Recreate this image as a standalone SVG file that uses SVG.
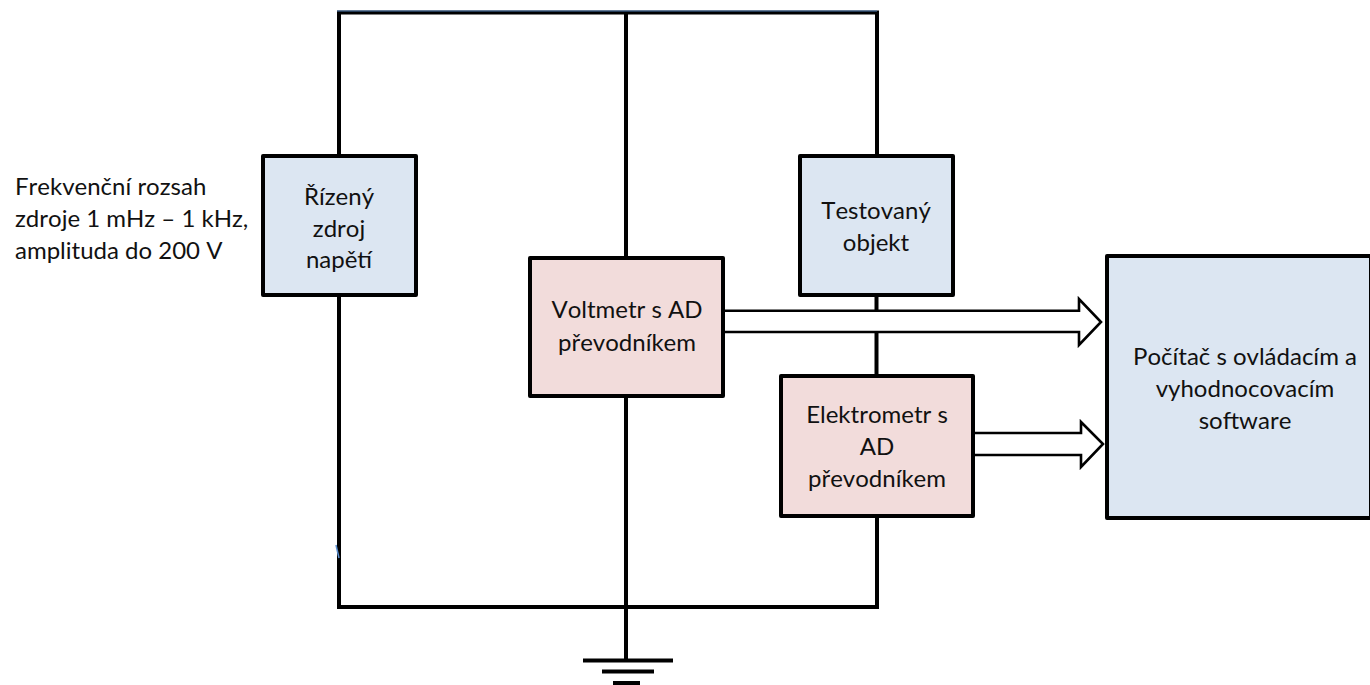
<svg xmlns="http://www.w3.org/2000/svg" width="1370" height="685" viewBox="0 0 1370 685">
<style>
.w{fill:none;stroke:#000;stroke-width:4}
.box{stroke:#000;stroke-width:4;stroke-linejoin:round}
.blue{fill:#dce6f2}
.pink{fill:#f2dcdb}
.arr{fill:#fff;stroke:#000;stroke-width:2.6}
text{font-family:"Lato","Open Sans","Liberation Sans",sans-serif;font-size:24px;font-kerning:none;fill:#111}
.c{text-anchor:middle}
</style>
<rect width="1370" height="685" fill="#fff"/>
<g id="connectors">
<path class="w" d="M339 155V12.500H877V155M339 296V607H877V516M626 12.500V258M626 396V660M876.500 296V376"/>
<path d="M337 11H877" stroke="#4a78b0" stroke-width="1" fill="none"/>
<path d="M336 545L339 558" stroke="#5b8fd0" stroke-width="1.500" fill="none"/>
<path class="w" d="M583 660.500H673M602 671.500H654M613 683H640"/>
<path class="arr" d="M723 310.700H1079V299L1101 322L1079 345V332H723"/>
<path class="arr" d="M973 433H1081V422L1103 444L1081 467V455H973"/>
</g>
<g id="note">
<text x="15" y="195">Frekvenční rozsah</text>
<text x="15" y="227">zdroje 1 mHz – 1 kHz,</text>
<text x="15" y="259">amplituda do 200 V</text>
</g>
<g id="zdroj">
<rect class="box blue" x="263" y="156" width="153" height="139"/>
<text class="c" x="339" y="205">Řízený</text>
<text class="c" x="339" y="237">zdroj</text>
<text class="c" x="339" y="268">napětí</text>
</g>
<g id="voltmetr">
<rect class="box pink" x="530" y="258" width="193" height="138"/>
<text class="c" x="627" y="318">Voltmetr s AD</text>
<text class="c" x="627" y="351">převodníkem</text>
</g>
<g id="objekt">
<rect class="box blue" x="800" y="156" width="153" height="139"/>
<text class="c" x="876" y="219">Testovaný</text>
<text class="c" x="876" y="251">objekt</text>
</g>
<g id="elektrometr">
<rect class="box pink" x="781" y="376" width="192" height="140"/>
<text class="c" x="877" y="423">Elektrometr s</text>
<text class="c" x="877" y="455">AD</text>
<text class="c" x="877" y="487">převodníkem</text>
</g>
<g id="pocitac">
<rect class="box blue" x="1107" y="256" width="264" height="262"/>
<text class="c" x="1245" y="365">Počítač s ovládacím a</text>
<text class="c" x="1245" y="397">vyhodnocovacím</text>
<text class="c" x="1245" y="429">software</text>
</g>
</svg>
